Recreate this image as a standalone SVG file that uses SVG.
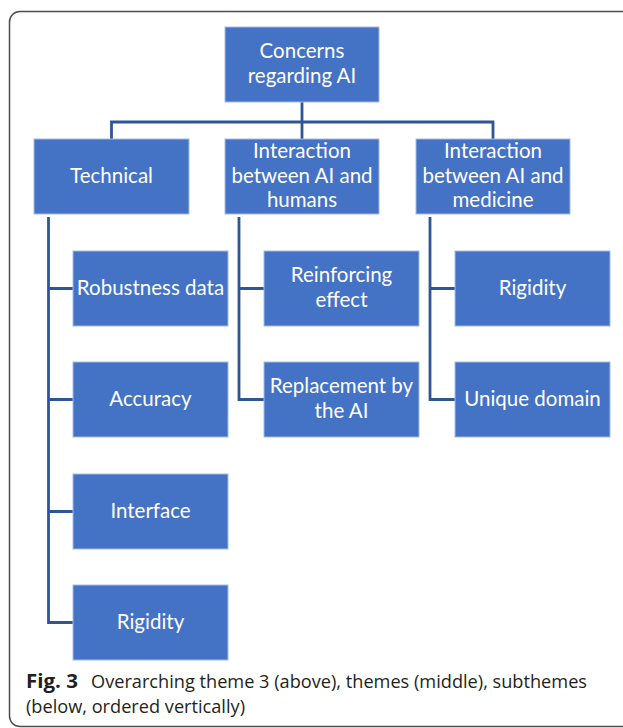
<svg xmlns="http://www.w3.org/2000/svg" width="623" height="728" viewBox="0 0 623 728">
<style>
.box{fill:#4472c4;stroke:#a3bbe6;stroke-width:1}
.t{font-family:Lato,"Open Sans",sans-serif;font-size:20.5px;fill:#ffffff;text-anchor:middle}
.con{fill:none;stroke:#2f5597;stroke-width:2.8;stroke-linejoin:miter}
.cap{font-family:"Open Sans","Noto Sans",sans-serif;font-size:19px;fill:#231f20}
</style>
<rect x="0" y="0" width="623" height="728" fill="#ffffff"/>
<path d="M623,11.5 H20 A10.5,10.5 0 0 0 9.5,22 V716 A10.5,10.5 0 0 0 20,726.5 H623" fill="none" stroke="#4d4d4d" stroke-width="1.5"/>
<g id="connectors">
<path class="con" d="M302,102 V122 M111.5,139 V122 H493 V139 M302,122 V139"/>
<path class="con" d="M48.5,217 V622.5 H73 M48.5,288.5 H73 M48.5,399.5 H73 M48.5,511.5 H73"/>
<path class="con" d="M239,217 V399.5 H264 M239,288.5 H264"/>
<path class="con" d="M430,217 V399.5 H455 M430,288.5 H455"/>
</g>
<g id="concerns"><rect class="box" x="225" y="27" width="154" height="75"/><text class="t" x="302" y="58">Concerns</text><text class="t" x="302" y="83">regarding AI</text></g>
<g id="technical"><rect class="box" x="34" y="139" width="155" height="75"/><text class="t" x="111.5" y="183">Technical</text></g>
<g id="humans"><rect class="box" x="225" y="139" width="154" height="75"/><text class="t" x="302" y="158">Interaction</text><text class="t" x="302" y="182.5">between AI and</text><text class="t" x="302" y="207">humans</text></g>
<g id="medicine"><rect class="box" x="416" y="139" width="154" height="75"/><text class="t" x="493" y="158">Interaction</text><text class="t" x="493" y="182.5">between AI and</text><text class="t" x="493" y="207">medicine</text></g>
<g id="robustness"><rect class="box" x="73" y="251" width="155" height="75"/><text class="t" x="150.5" y="295">Robustness data</text></g>
<g id="accuracy"><rect class="box" x="73" y="362" width="155" height="75"/><text class="t" x="150.5" y="406">Accuracy</text></g>
<g id="interface"><rect class="box" x="73" y="474" width="155" height="75"/><text class="t" x="150.5" y="518">Interface</text></g>
<g id="rigidity-tech"><rect class="box" x="73" y="585" width="155" height="75"/><text class="t" x="150.5" y="629">Rigidity</text></g>
<g id="reinforcing"><rect class="box" x="264" y="251" width="155" height="75"/><text class="t" x="341.5" y="282">Reinforcing</text><text class="t" x="341.5" y="307">effect</text></g>
<g id="replacement"><rect class="box" x="264" y="362" width="155" height="75"/><text class="t" x="341.5" y="393">Replacement by</text><text class="t" x="341.5" y="418">the AI</text></g>
<g id="rigidity-med"><rect class="box" x="455" y="251" width="155" height="75"/><text class="t" x="532.5" y="295">Rigidity</text></g>
<g id="unique"><rect class="box" x="455" y="362" width="155" height="75"/><text class="t" x="532.5" y="406">Unique domain</text></g>
<g id="caption">
<text class="cap" x="26" y="688" font-weight="bold" textLength="52" lengthAdjust="spacingAndGlyphs">Fig. 3</text>
<text class="cap" x="91" y="688" textLength="496" lengthAdjust="spacingAndGlyphs">Overarching theme 3 (above), themes (middle), subthemes</text>
<text class="cap" x="26" y="713" textLength="219" lengthAdjust="spacingAndGlyphs">(below, ordered vertically)</text>
</g>
</svg>
